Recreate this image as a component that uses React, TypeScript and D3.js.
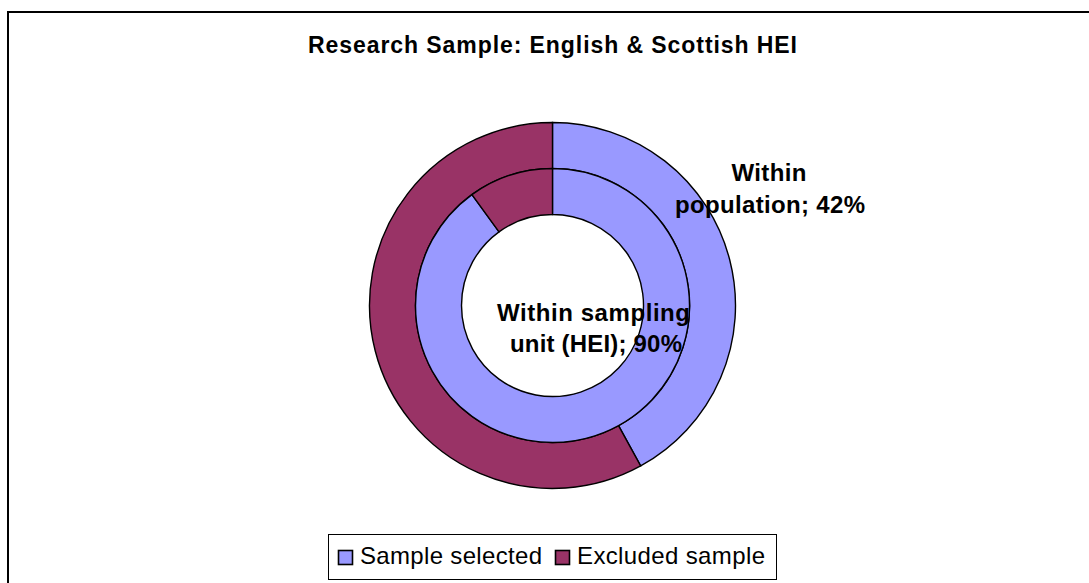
import React from 'react';
import * as d3 from 'd3';

// chart data
const categories = ['Sample selected', 'Excluded sample'];
const colors = ['#9999ff', '#993366'];
const populationValues = [42, 58];   // outer ring
const samplingUnitValues = [90, 10]; // inner ring
const title = 'Research Sample: English & Scottish HEI';

const W = 1089;
const H = 583;
const FONT = '"Liberation Sans", Arial, sans-serif';

const App = () => {
  const cx = 552.5;
  const cy = 305.5;
  const holeR = 91;
  const midR = 137;
  const outerR = 183;

  const pie = d3.pie<number>().sort(null).value(d => d);
  const innerArc = d3.arc<d3.PieArcDatum<number>>().innerRadius(holeR).outerRadius(midR);
  const outerArc = d3.arc<d3.PieArcDatum<number>>().innerRadius(midR).outerRadius(outerR);

  const innerSlices = pie(samplingUnitValues);
  const outerSlices = pie(populationValues);

  return (
    <div style={{ position: 'absolute', left: 0, top: 0 }}>
      <svg width={W} height={H} style={{ display: 'block', background: '#fff' }}>
        <rect x={8} y={12} width={W + 20} height={H + 20} fill="#fff" stroke="#000" strokeWidth={2} />

        <text x={cx} y={53} textAnchor="middle" fontFamily={FONT} fontWeight="bold" fontSize={23}
          textLength={489} lengthAdjust="spacing">{title}</text>

        <g transform={`translate(${cx},${cy})`}>
          {outerSlices.map((s, i) => (
            <path key={'o' + i} d={outerArc(s) || ''} fill={colors[i]} stroke="#000" strokeWidth={1.4} />
          ))}
          {innerSlices.map((s, i) => (
            <path key={'i' + i} d={innerArc(s) || ''} fill={colors[i]} stroke="#000" strokeWidth={1.4} />
          ))}
        </g>

        {/* data labels */}
        <g fontFamily={FONT} fontWeight="bold" fontSize={24} textAnchor="middle" fill="#000">
          <text x={cx + 41} y={cy + 15} textLength={193} lengthAdjust="spacing">Within sampling</text>
          <text x={cx + 43.5} y={cy + 46} textLength={172} lengthAdjust="spacing">
            {`unit (HEI); ${samplingUnitValues[0]}%`}
          </text>
          <text x={cx + 216.5} y={cy - 125} textLength={75} lengthAdjust="spacing">Within</text>
          <text x={cx + 217.5} y={cy - 92.5} textLength={190} lengthAdjust="spacing">
            {`population; ${populationValues[0]}%`}
          </text>
        </g>

        {/* legend */}
        <rect x={328.5} y={534.5} width={448} height={45} fill="#fff" stroke="#000" strokeWidth={1} />
        {categories.map((c, i) => {
          const sx = i === 0 ? 338 : 555;
          const len = i === 0 ? 182 : 188;
          return (
            <g key={c}>
              <rect x={sx + 0.5} y={550.5} width={14} height={14} fill={colors[i]} stroke="#000" strokeWidth={1.6} />
              <text x={sx + 22} y={563.5} fontFamily={FONT} fontSize={24} textLength={len} lengthAdjust="spacing">{c}</text>
            </g>
          );
        })}
      </svg>
    </div>
  );
};

export default App;
